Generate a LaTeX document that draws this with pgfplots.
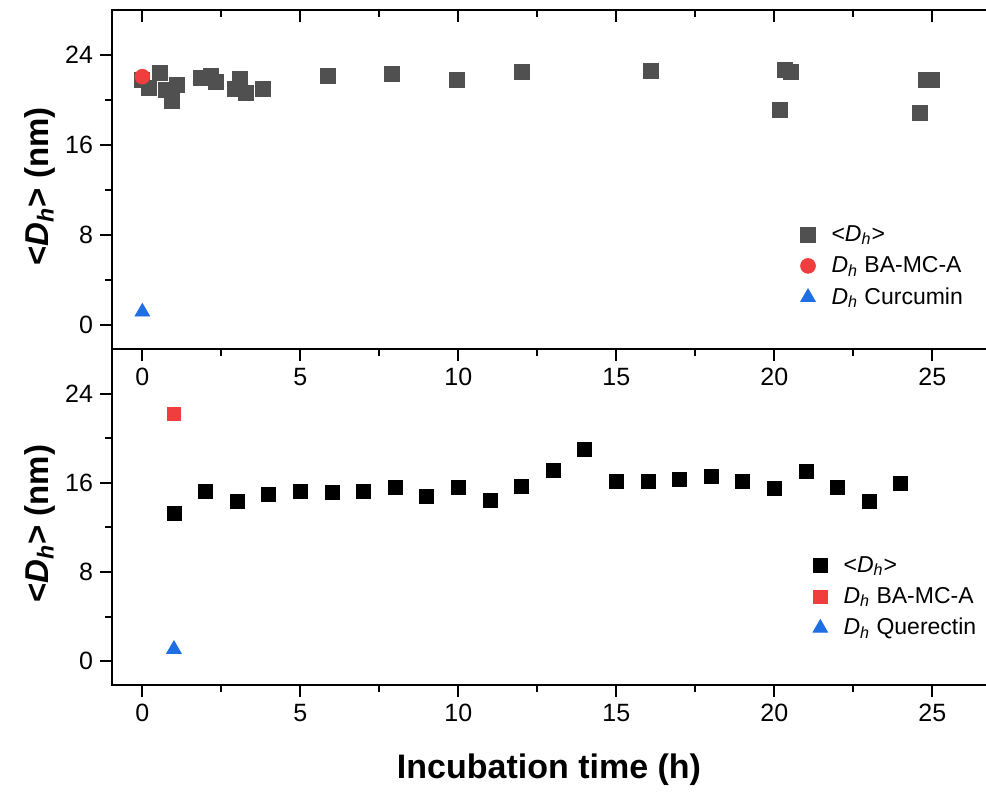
\documentclass[border=0pt]{standalone}
\usepackage{fontspec}
\setmainfont{Liberation Sans}
\usepackage{pgfplots}
\pgfplotsset{compat=1.18}

\definecolor{dgray}{RGB}{80,80,80}
\definecolor{ored}{RGB}{240,62,62}
\definecolor{oblue}{RGB}{30,110,228}

\newcommand{\Dh}{\textit{D}\textsubscript{\textit{h}}}

% the right edge of each panel lies beyond the page, so no right border shows
\pgfplotsset{
  every non boxed x axis/.style={},
  every non boxed y axis/.style={},
  panel/.style={
    scale only axis, width=447pt, anchor=south west,
    xmin=-0.96, xmax=27.33, ymin=-2.14, ymax=28,
    axis line style={line width=1pt, -},
    xtick={0,5,...,25}, minor xtick={2.5,7.5,...,22.5},
    ytick={0,8,16,24}, minor ytick={4,12,20},
    xtick pos=bottom, ytick pos=left,
    tick align=outside,
    major tick length=6pt, minor tick length=3.5pt,
    tick style={line width=1pt, black},
    ticklabel style={font=\fontsize{12.5}{15}\selectfont},
    /pgf/number format/assume math mode=true,
    ylabel={\bfseries <\textit{D}\textsubscript{\textit{h}}> (nm)},
    ylabel style={font=\fontsize{16.5}{20}\selectfont,
      at={(axis description cs:-0.0806,0.48)}, anchor=center},
    legend style={draw=none, fill=none,
      font=\fontsize{11.5}{13}\selectfont, anchor=north west, row sep=2pt,
      /tikz/every odd column/.append style={column sep=6pt}},
    legend cell align=left,
  }
}

\begin{document}
\begin{tikzpicture}
\path[use as bounding box] (0,0) rectangle (493pt,397pt);

% upper panel: curcumin
\begin{axis}[panel, at={(56pt,222.5pt)}, height=169.5pt,
  legend style={at={(axis description cs:0.763,0.389)}}]
\addplot[only marks, mark=square*, mark size=3.75pt, color=dgray] coordinates {
  (0,21.8) (0.2,21.1) (0.54,22.4) (0.75,20.9) (0.92,19.9) (1.1,21.3)
  (1.84,22.0) (2.18,22.1) (2.34,21.6) (2.94,21.0) (3.1,21.9) (3.28,20.6)
  (3.8,21.0) (5.86,22.1) (7.9,22.3) (9.95,21.8) (12.0,22.46) (16.08,22.6)
  (20.16,19.08) (20.33,22.7) (20.53,22.46) (24.62,18.87) (24.78,21.75)
  (24.99,21.75)
};
\addlegendentry{<\Dh>}
\addplot[only marks, mark=*, mark size=3.7pt, color=ored] coordinates {(0,22.07)};
\addlegendentry{\Dh{} BA-MC-A}
\addplot[only marks, mark=triangle*, mark size=4.2pt, color=oblue] coordinates {(0,1.16)};
\addlegendentry{\Dh{} Curcumin}
\end{axis}

% inward ticks on the top edge of the upper panel
\begin{axis}[scale only axis, width=447pt, height=169.5pt,
  at={(56pt,222.5pt)}, anchor=south west,
  xmin=-0.96, xmax=27.33, ymin=-2.14, ymax=28,
  axis x line*=top, axis y line=none,
  axis line style={line width=1pt, -},
  xtick pos=top, tick align=inside,
  xtick={0,5,...,25}, minor xtick={2.5,7.5,...,22.5},
  xticklabels={}, ytick=\empty,
  major tick length=6pt, minor tick length=3.5pt,
  tick style={line width=1pt, black}]
\end{axis}

% lower panel: querectin
\begin{axis}[panel, at={(56pt,54.5pt)}, height=168pt,
  xlabel={\bfseries Incubation time (h)},
  xlabel style={font=\fontsize{17}{20}\selectfont,
    at={(axis description cs:0.4888,0)}, yshift=-42.5pt, anchor=center},
  legend style={at={(axis description cs:0.777,0.408)}}]
\addplot[only marks, mark=square*, mark size=3.5pt, color=black] coordinates {
  (1,13.26) (2,15.25) (3,14.36) (4,14.96) (5,15.25) (6,15.1) (7,15.25)
  (8,15.55) (9,14.8) (10,15.6) (11,14.42) (12,15.64) (13,17.13) (14,18.97)
  (15,16.08) (16,16.08) (17,16.3) (18,16.53) (19,16.08) (20,15.5)
  (21,16.98) (22,15.6) (23,14.36) (24,15.97)
};
\addlegendentry{<\Dh>}
\addplot[only marks, mark=square*, mark size=3.3pt, color=ored] coordinates {(1,22.18)};
\addlegendentry{\Dh{} BA-MC-A}
\addplot[only marks, mark=triangle*, mark size=4.2pt, color=oblue] coordinates {(1,1.07)};
\addlegendentry{\Dh{} Querectin}
\end{axis}
\end{tikzpicture}
\end{document}
